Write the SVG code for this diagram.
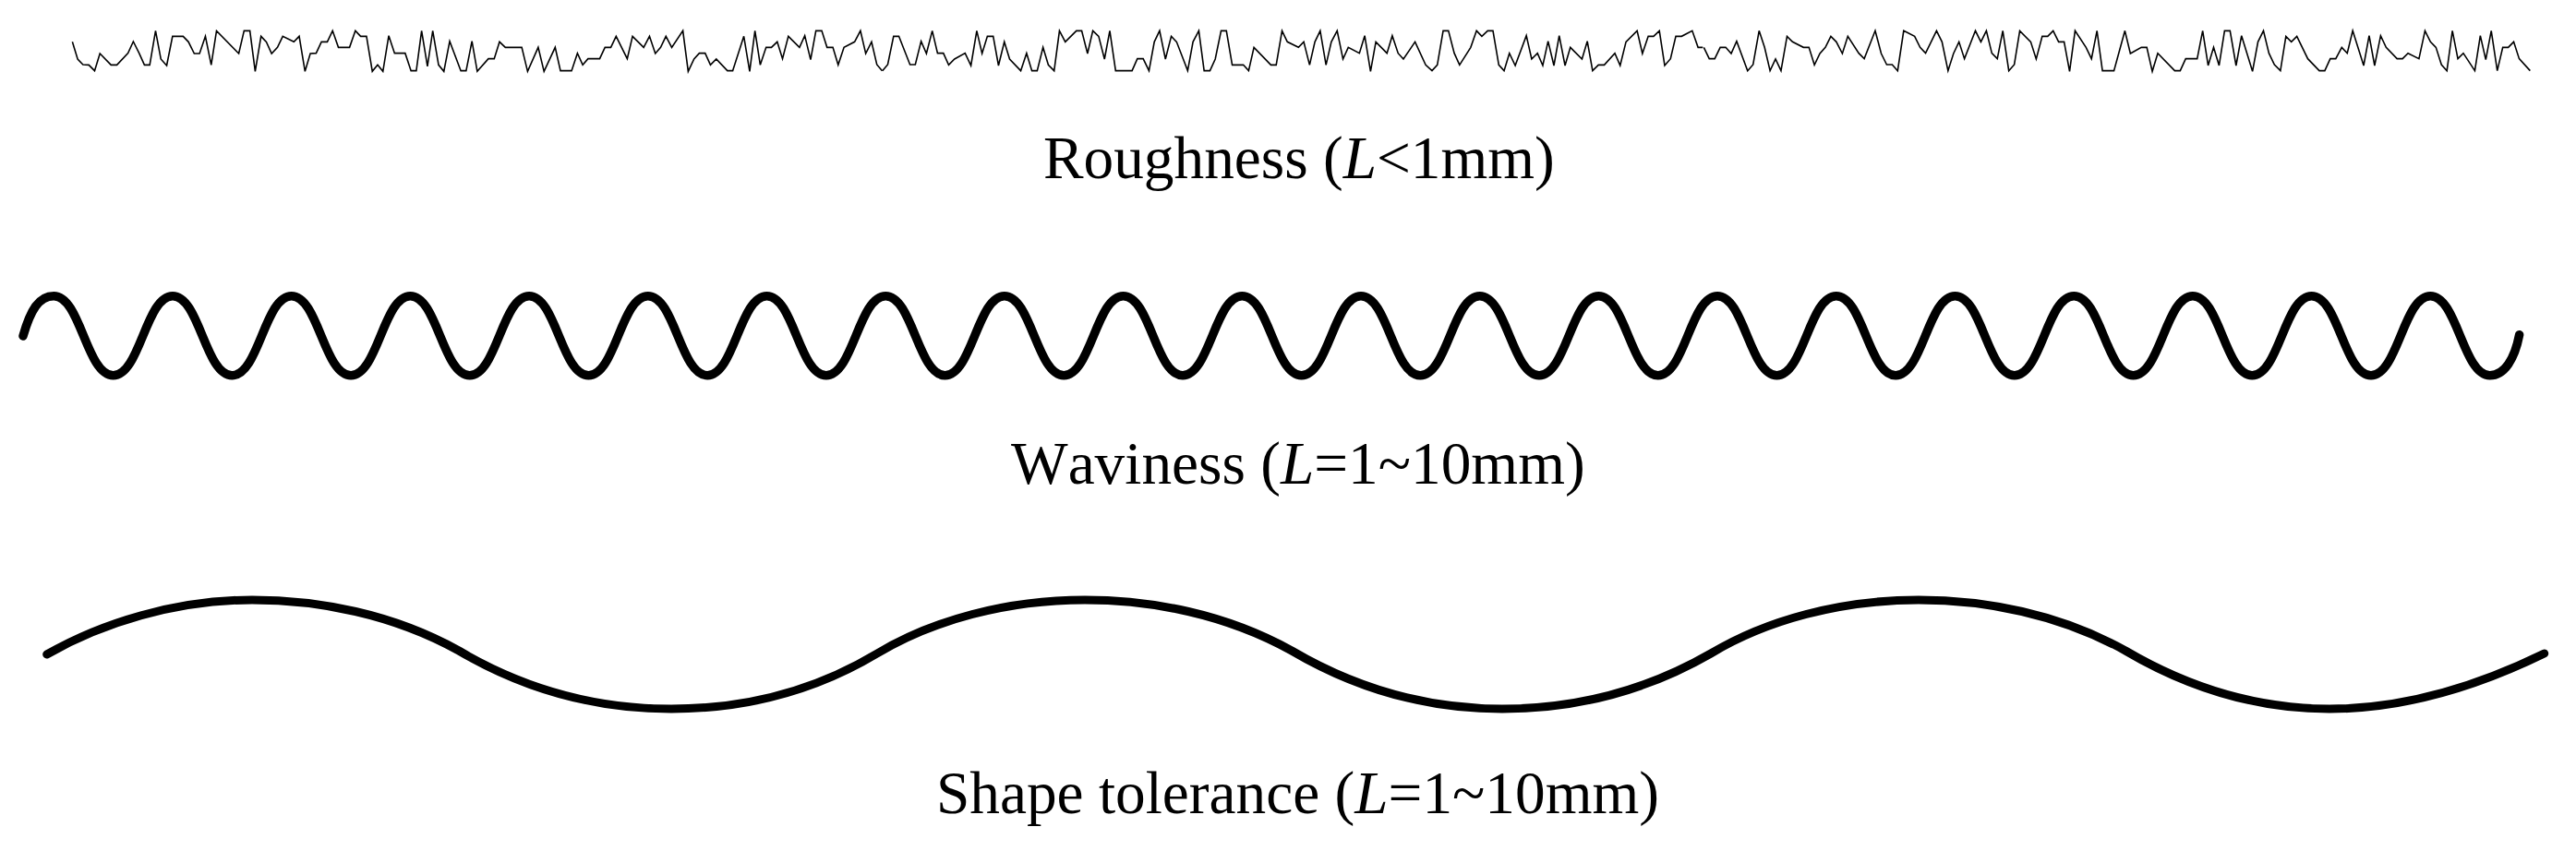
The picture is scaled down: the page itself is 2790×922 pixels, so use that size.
<svg xmlns="http://www.w3.org/2000/svg" width="2790" height="922" viewBox="0 0 2790 922">
<style>
.bg{fill:#fff}
.rough{fill:none;stroke:#000;stroke-width:1.6;stroke-linejoin:miter;vector-effect:non-scaling-stroke}
.thick{fill:none;stroke:#000;stroke-linecap:round;stroke-linejoin:round}
text{font-family:"Liberation Serif","Times New Roman",serif;font-size:65.3px;font-kerning:none;fill:#000}
.i{font-style:italic}
</style>
<rect class="bg" width="2790" height="922"/>
<g id="roughness">
<polyline class="rough" transform="translate(60,20) scale(0.574,0.3333)" points="32,76 42,132 52,150 63,151 74,170 84,114 105,151 116,151 137,113 147,75 158,113 168,151 178,151 189,40 199,132 210,153 221,58 241,58 251,76 262,114 272,114 283,58 294,151 304,40 346,114 356,40 367,40 377,172 388,58 398,76 408,114 419,94 429,58 450,76 460,58 471,172 481,114 492,113 502,76 513,76 523,40 534,94 555,94 566,40 576,58 587,58 598,172 608,151 618,172 629,56 640,113 660,113 671,170 681,170 691,40 702,156 712,40 723,151 733,172 744,74 765,170 775,170 786,74 796,172 817,131 828,131 838,76 849,94 880,94 891,172 911,94 922,172 943,94 953,170 974,170 985,113 995,151 1005,131 1027,131 1037,94 1048,94 1058,58 1079,131 1089,58 1110,94 1121,58 1132,114 1142,94 1152,58 1163,94 1184,40 1194,172 1205,132 1215,113 1226,113 1236,151 1247,132 1268,170 1278,170 1299,58 1310,172 1320,40 1330,151 1341,94 1351,94 1362,76 1372,131 1383,58 1404,94 1414,56 1425,134 1435,40 1446,40 1456,94 1467,94 1477,151 1488,94 1508,76 1519,40 1529,114 1540,76 1550,150 1560,170"/>
<polyline class="rough" transform="translate(950,20) scale(0.574,0.3333)" points="10,170 20,150 31,58 41,58 62,150 72,150 83,74 93,114 104,40 114,113 125,113 135,151 146,132 166,113 177,153 188,40 198,114 208,58 219,58 229,153 240,76 250,132 271,170 282,113 292,170 302,170 313,94 323,151 334,170 344,40 355,76 376,40 386,40 397,114 407,40 418,58 429,132 439,40 450,170 481,170 491,131 502,131 513,170 523,76 533,40 544,132 555,58 565,76 586,170 596,76 607,40 617,170 628,170 638,132 649,40 659,40 670,151 691,151 701,170 711,94 743,151 753,151 764,40 774,76 795,94 805,76 816,151 826,76 836,40 847,151 857,76 868,40 879,132 889,94 910,113 920,56 931,172 941,76 962,113 972,56 983,113 993,132 1015,76 1035,151 1047,170 1057,151 1068,40 1078,40 1089,113 1099,151 1120,94 1131,40 1141,58 1152,40 1162,40 1173,151 1183,170 1193,113 1204,153 1225,56 1235,132 1246,113 1256,153 1266,74 1277,153 1287,56 1298,153 1308,94 1330,132 1340,74 1350,170 1361,151 1372,151 1392,113 1402,153 1413,76 1434,40 1444,114 1455,58 1465,58 1476,40 1486,153 1497,131 1507,58 1518,58 1538,40 1549,94 1558,94"/>
<polyline class="rough" transform="translate(1840,20) scale(0.5931,0.3333)" points="9,94 19,131 29,131 39,94 49,94 59,114 69,74 89,170 99,150 110,40 120,94 130,170 140,132 150,170 161,58 171,76 191,94 201,94 211,151 221,114 231,94 241,58 251,76 262,114 272,58 292,113 302,131 322,40 333,114 343,150 353,150 363,170 374,40 394,58 404,94 414,113 434,40 444,76 455,170 465,114 475,76 485,131 505,40 515,76 525,40 535,113 545,131 555,40 566,170 576,150 586,40 606,76 616,132 627,58 637,58 647,40 657,76 667,76 677,172 687,40 707,94 717,131 727,40 737,170 758,170 778,40 788,114 808,94 818,94 828,172 838,113 869,170 879,170 889,131 910,131 920,40 930,153 940,94 950,153 960,40 970,40 981,153 991,56 1011,172 1021,76 1031,40 1041,113 1051,150 1062,170 1072,58 1082,76 1092,58 1112,131 1133,170 1143,170 1153,131 1163,131 1174,94 1184,113 1194,40 1214,153 1224,56 1234,153 1245,56 1255,94 1275,131 1285,131 1295,113 1315,131 1326,40 1336,76 1346,94 1356,150 1366,170 1376,40 1386,131 1396,113 1417,170 1427,56 1437,134 1447,40 1458,170 1468,94 1478,94 1488,76 1498,131 1518,170"/>
<text x="1130" y="193">Roughness (<tspan class="i">L</tspan>&lt;1mm)</text>
</g>
<g id="waviness">
<path class="thick" stroke-width="9.5" d="M25 364C33 336 42 320.7 58.3 320.7c29 0 35.35 86 64.35 86s35.35 -86 64.35 -86c29 0 35.35 86 64.35 86s35.35 -86 64.35 -86c29 0 35.35 86 64.35 86s35.35 -86 64.35 -86c29 0 35.35 86 64.35 86s35.35 -86 64.35 -86c29 0 35.35 86 64.35 86s35.35 -86 64.35 -86c29 0 35.35 86 64.35 86s35.35 -86 64.35 -86c29 0 35.35 86 64.35 86s35.35 -86 64.35 -86c29 0 35.35 86 64.35 86s35.35 -86 64.35 -86c29 0 35.35 86 64.35 86s35.35 -86 64.35 -86c29 0 35.35 86 64.35 86s35.35 -86 64.35 -86c29 0 35.35 86 64.35 86s35.35 -86 64.35 -86c29 0 35.35 86 64.35 86s35.35 -86 64.35 -86c29 0 35.35 86 64.35 86s35.35 -86 64.35 -86c29 0 35.35 86 64.35 86s35.35 -86 64.35 -86c29 0 35.35 86 64.35 86s35.35 -86 64.35 -86c29 0 35.35 86 64.35 86s35.35 -86 64.35 -86c29 0 35.35 86 64.35 86s35.35 -86 64.35 -86c29 0 35.35 86 64.35 86s35.35 -86 64.35 -86c29 0 35.35 86 64.35 86s35.35 -86 64.35 -86c29 0 35.35 86 64.35 86s35.35 -86 64.35 -86c29 0 35.35 86 64.35 86c16 0 27 -18 32 -44"/>
<text x="1095" y="524">Waviness (<tspan class="i">L</tspan>=1~10mm)</text>
</g>
<g id="shape-tolerance">
<path class="thick" stroke-width="9" d="M50.7 709C110 675 190 650 273 650C345 650 425 665 497 705C565 745 640 768 727 768C805 768 880 750 950 708C1010 672 1090 650 1175 650C1247 650 1327 665 1399 705C1467 745 1542 768 1627 768C1705 768 1780 750 1853 708C1913 672 1993 650 2078 650C2150 650 2230 665 2302 705C2370 745 2445 768 2523 768C2601 768 2680 745 2755.7 708"/>
<text x="1014" y="881">Shape tolerance (<tspan class="i">L</tspan>=1~10mm)</text>
</g>
</svg>
